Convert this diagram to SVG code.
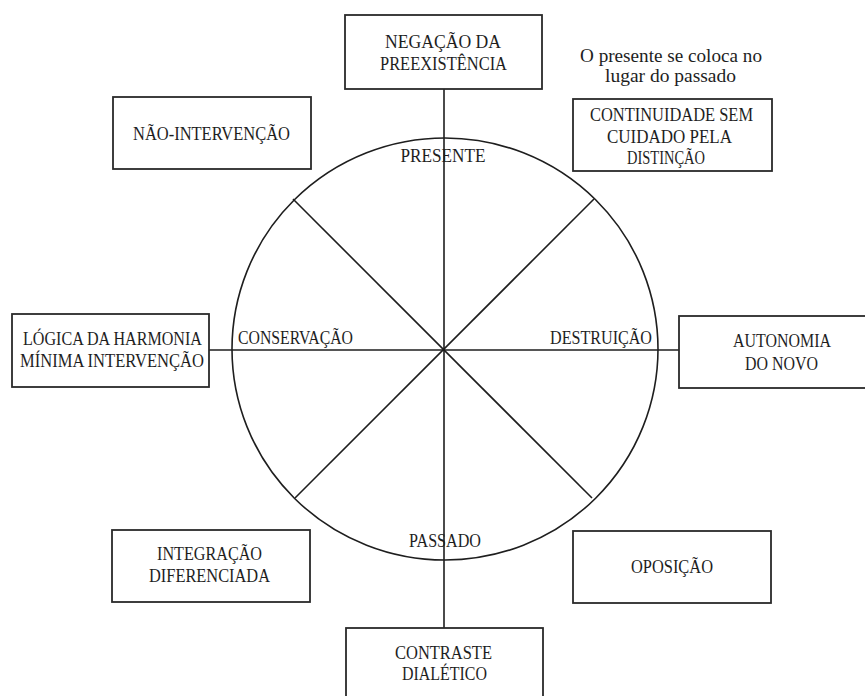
<svg xmlns="http://www.w3.org/2000/svg" width="865" height="696" viewBox="0 0 865 696">
<style>
.box{fill:#fff;stroke:#2a2a2a;stroke-width:1.8}
.ln{fill:none;stroke:#1e1e1e;stroke-width:1.6}
text{font-family:'Liberation Serif','DejaVu Serif',serif;font-size:19px;fill:#1e1e1e;text-anchor:middle}
</style>
<rect width="865" height="696" fill="#fff"/>
<g id="connectors">
<ellipse class="ln" cx="445" cy="349" rx="213" ry="211"/>
<line class="ln" x1="444" y1="89" x2="444" y2="628"/>
<line class="ln" x1="209" y1="350" x2="679" y2="350"/>
<line class="ln" x1="293" y1="199" x2="592" y2="498"/>
<line class="ln" x1="594" y1="199" x2="295" y2="498"/>
</g>
<g font-family="Liberation Serif, DejaVu Serif, serif" font-size="19">
<g id="label-presente"><text x="443" y="162" textLength="85" lengthAdjust="spacingAndGlyphs">PRESENTE</text></g>
<g id="label-passado"><text x="445" y="547" textLength="72" lengthAdjust="spacingAndGlyphs">PASSADO</text></g>
<g id="label-conservacao"><text x="295.5" y="344" textLength="115" lengthAdjust="spacingAndGlyphs">CONSERVAÇÃO</text></g>
<g id="label-destruicao"><text x="601" y="344" textLength="102" lengthAdjust="spacingAndGlyphs">DESTRUIÇÃO</text></g>
<g id="note"><text x="671" y="62" textLength="182" lengthAdjust="spacingAndGlyphs">O presente se coloca no</text><text x="670.5" y="82" textLength="131" lengthAdjust="spacingAndGlyphs">lugar do passado</text></g>
<g id="node-negacao"><rect class="box" x="345" y="15" width="197" height="74"/><text x="443" y="48" textLength="116" lengthAdjust="spacingAndGlyphs">NEGAÇÃO DA</text><text x="443.5" y="70" textLength="127" lengthAdjust="spacingAndGlyphs">PREEXISTÊNCIA</text></g>
<g id="node-continuidade"><rect class="box" x="573" y="99" width="199" height="72"/><text x="671.5" y="121" textLength="163" lengthAdjust="spacingAndGlyphs">CONTINUIDADE SEM</text><text x="669.5" y="143" textLength="125" lengthAdjust="spacingAndGlyphs">CUIDADO PELA</text><text x="666" y="164" textLength="78" lengthAdjust="spacingAndGlyphs">DISTINÇÃO</text></g>
<g id="node-nao-intervencao"><rect class="box" x="113" y="97" width="198" height="72"/><text x="211.5" y="140" textLength="157" lengthAdjust="spacingAndGlyphs">NÃO-INTERVENÇÃO</text></g>
<g id="node-logica"><rect class="box" x="12" y="314" width="197" height="73"/><text x="112.5" y="345" textLength="179" lengthAdjust="spacingAndGlyphs">LÓGICA DA HARMONIA</text><text x="112" y="367" textLength="184" lengthAdjust="spacingAndGlyphs">MÍNIMA INTERVENÇÃO</text></g>
<g id="node-autonomia"><rect class="box" x="679" y="316" width="200" height="72"/><text x="782" y="347" textLength="98" lengthAdjust="spacingAndGlyphs">AUTONOMIA</text><text x="781.5" y="370" textLength="73" lengthAdjust="spacingAndGlyphs">DO NOVO</text></g>
<g id="node-integracao"><rect class="box" x="112" y="530" width="198" height="72"/><text x="209.5" y="560" textLength="105" lengthAdjust="spacingAndGlyphs">INTEGRAÇÃO</text><text x="209.5" y="582" textLength="121" lengthAdjust="spacingAndGlyphs">DIFERENCIADA</text></g>
<g id="node-oposicao"><rect class="box" x="573" y="531" width="198" height="72"/><text x="672" y="573" textLength="82" lengthAdjust="spacingAndGlyphs">OPOSIÇÃO</text></g>
<g id="node-contraste"><rect class="box" x="346" y="628" width="197" height="80"/><text x="443.5" y="659" textLength="97" lengthAdjust="spacingAndGlyphs">CONTRASTE</text><text x="444.5" y="680" textLength="85" lengthAdjust="spacingAndGlyphs">DIALÉTICO</text></g>
</g>
</svg>
